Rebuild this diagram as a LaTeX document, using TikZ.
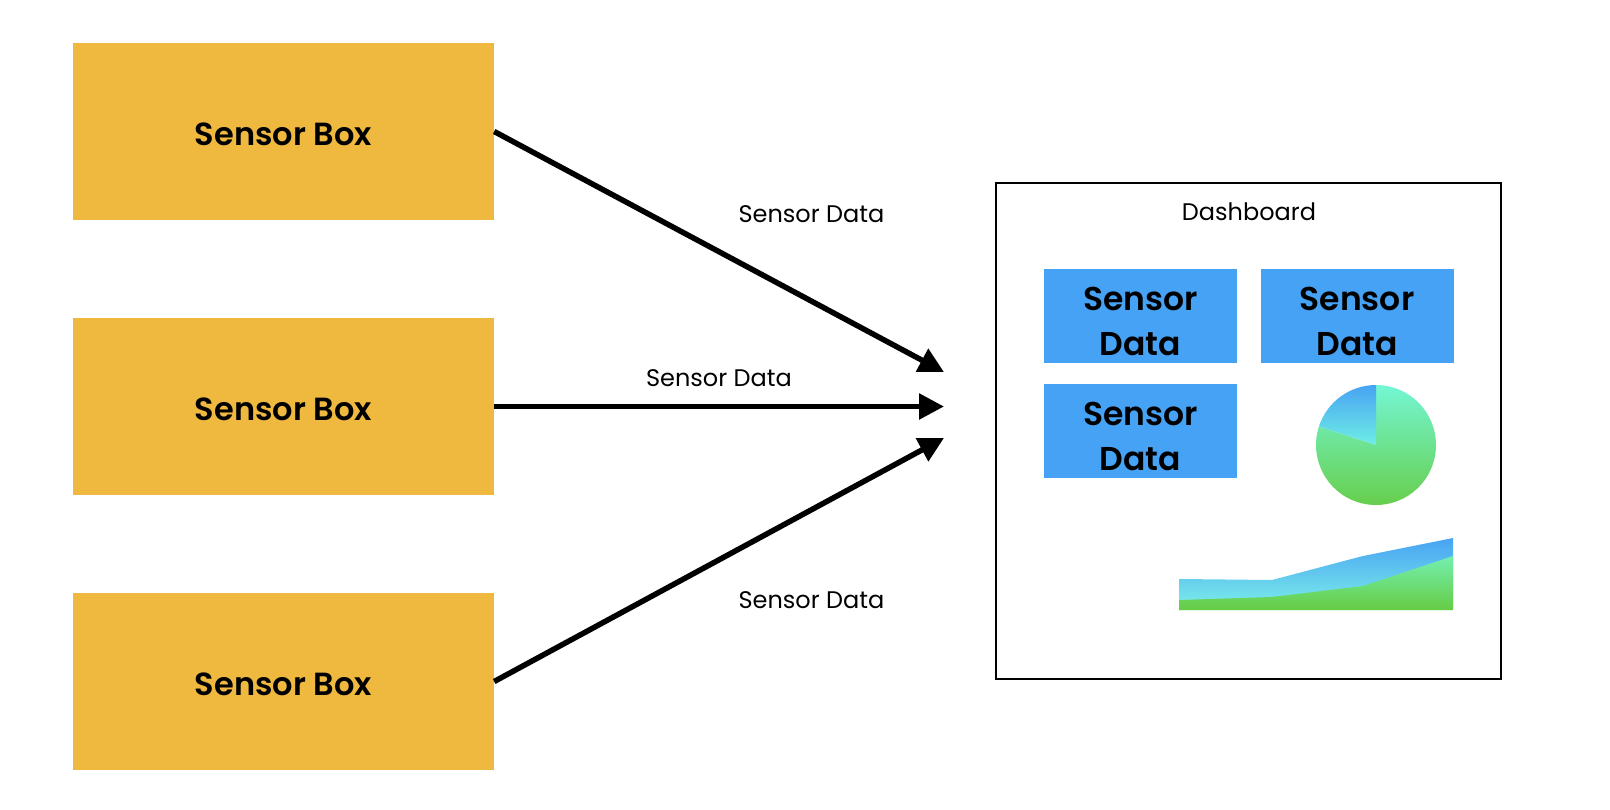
\documentclass[tikz,border=0pt]{standalone}
\usepackage{fontspec}
\setmainfont{Poppins}[BoldFont={Poppins SemiBold}]
\usetikzlibrary{arrows.meta}
\definecolor{boxyellow}{RGB}{239,185,64}
\definecolor{tileblue}{RGB}{70,162,245}
\definecolor{gblue}{RGB}{72,163,243}
\definecolor{gcyan}{RGB}{110,238,230}
\definecolor{gaqua}{RGB}{116,246,212}
\definecolor{ggreen}{RGB}{102,204,68}
\definecolor{gmint}{RGB}{116,240,176}
\begin{document}
\begin{tikzpicture}[x=1pt,y=-1pt,
  sensorbox/.style={fill=boxyellow,draw=none,minimum width=421pt,minimum height=177pt,inner sep=0pt},
  boxtext/.style={inner sep=0pt,font=\fontsize{32}{40}\selectfont\bfseries},
  datatile/.style={fill=tileblue,draw=none,minimum width=193pt,minimum height=94pt,inner sep=0pt},
  tiletext/.style={inner sep=0pt,align=center,font=\fontsize{33}{45}\selectfont\bfseries},
  lbl/.style={anchor=base,inner sep=0pt,font=\fontsize{24}{30}\selectfont},
  flow/.style={line width=5.5pt,-{Triangle[length=25pt,width=25pt]}},
  frame/.style={draw=black,line width=2pt}]
\useasboundingbox (0,0) rectangle (1610,810);
% sensor boxes
\node[sensorbox] (s1) at (283.5,131.5) {};
\node[sensorbox] (s2) at (283.5,406.5) {};
\node[sensorbox] (s3) at (283.5,681.5) {};
\node[boxtext] (s1t) at ([yshift=-3pt]s1.center) {Sensor Box};
\node[boxtext] (s2t) at ([yshift=-3pt]s2.center) {Sensor Box};
\node[boxtext] (s3t) at ([yshift=-3pt]s3.center) {Sensor Box};
% arrow tips
\coordinate (t1) at (944,372);
\coordinate (t2) at (944,406.5);
\coordinate (t3) at (944,438);
\draw[flow] (s1.east) -- (t1);
\draw[flow] (s2.east) -- (t2);
\draw[flow] (s3.east) -- (t3);
% labels
\node[lbl] (l1) at (811.5,223) {Sensor Data};
\node[lbl] (l2) at (719,387) {Sensor Data};
\node[lbl] (l3) at (811.5,608) {Sensor Data};
% dashboard
\node[frame,minimum width=505pt,minimum height=496pt,inner sep=0pt] (dash) at (1248.5,431) {};
\node[lbl] (dt) at (1249,221) {Dashboard};
\node[datatile] (d1) at (1140.5,316) {};
\node[datatile] (d2) at (1357,316) {};
\node[datatile] (d3) at (1140.5,431) {};
\node[tiletext] (d1t) at ([yshift=-5pt]d1.center) {Sensor\\Data};
\node[tiletext] (d2t) at ([yshift=-5pt]d2.center) {Sensor\\Data};
\node[tiletext] (d3t) at ([yshift=-5pt]d3.center) {Sensor\\Data};
% pie chart
\coordinate (pc) at (1376,445);
\shade[top color=gaqua,bottom color=ggreen] (pc) -- ++(-57.06,-18.54) arc[start angle=-162,end angle=-450,radius=60] -- cycle;
\shade[top color=gblue,bottom color=gcyan] (pc) -- ++(0,-60) arc[start angle=-90,end angle=-162,radius=60] -- cycle;
% area chart
\shade[top color=gblue,bottom color=gcyan!90!white] (1179,579) -- (1272,580) -- (1363,556) -- (1453,538) -- (1453,610) -- (1179,610) -- cycle;
\shade[top color=gmint,bottom color=ggreen] (1179,600) -- (1272,597) -- (1363,586) -- (1453,556) -- (1453,610) -- (1179,610) -- cycle;
\end{tikzpicture}
\end{document}
